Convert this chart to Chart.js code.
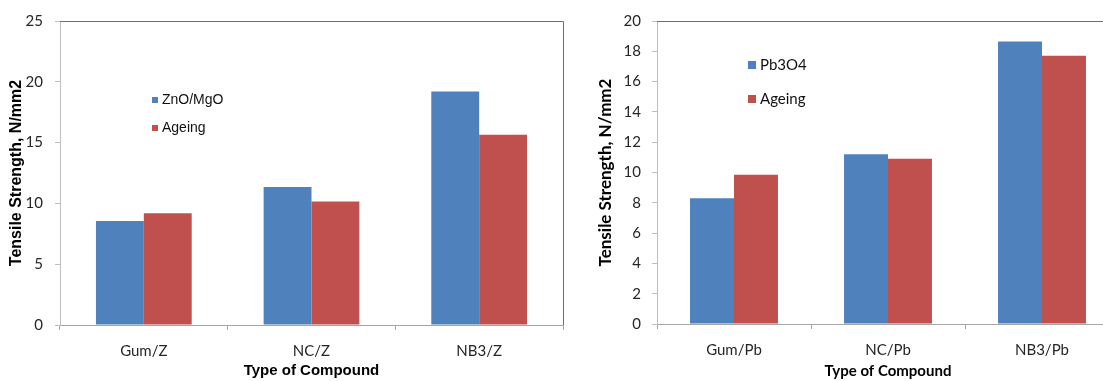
<!DOCTYPE html>
<html lang="en">
<head>
    <meta charset="UTF-8">
    <title>Tensile Strength</title>
    <script src="https://cdn.jsdelivr.net/npm/chart.js"></script>
    <style>
        body { margin: 0; width: 1103px; height: 381px; overflow: hidden; background: #fff; position: relative; }
        #leftChart { position: absolute; left: 0; top: 0; }
        #rightChart { position: absolute; left: 580px; top: 0; }
    </style>
</head>
<body>

<canvas id="leftChart" width="580" height="381"></canvas>
<canvas id="rightChart" width="560" height="381"></canvas>

<script>
    // data
    const categoriesZ = ['Gum/Z', 'NC/Z', 'NB3/Z'];
    const znoMgo = [8.55, 11.35, 19.2];
    const ageingZ = [9.2, 10.15, 15.65];

    const categoriesPb = ['Gum/Pb', 'NC/Pb', 'NB3/Pb'];
    const pb3o4 = [8.3, 11.2, 18.65];
    const ageingPb = [9.85, 10.9, 17.7];

    const yTicksZ = [0, 5, 10, 15, 20, 25];
    const yTicksPb = [0, 2, 4, 6, 8, 10, 12, 14, 16, 18, 20];

    const BLUE = '#4F81BD';
    const RED = '#C0504D';
    const calibriLike = 'Lato, "Open Sans", sans-serif';
    const arialLike = '"Liberation Sans", Arial, sans-serif';

    // top + right plot frame, like the old excel plot area
    const frame = {
        id: 'frame',
        beforeDatasetsDraw(chart) {
            const a = chart.chartArea;
            const ctx = chart.ctx;
            ctx.save();
            ctx.strokeStyle = '#6f6f6f';
            ctx.lineWidth = 1;
            ctx.beginPath();
            ctx.moveTo(a.left, a.top + 0.5);
            ctx.lineTo(a.right + 0.5, a.top + 0.5);
            ctx.lineTo(a.right + 0.5, a.bottom);
            ctx.stroke();
            ctx.restore();
        }
    };

    // legend floating inside the plot
    const floatLegend = {
        id: 'floatLegend',
        afterDraw(chart, args, opts) {
            const ctx = chart.ctx;
            ctx.save();
            ctx.font = opts.font;
            ctx.textBaseline = 'middle';
            ctx.textAlign = 'left';
            chart.data.datasets.forEach((ds, i) => {
                const cy = opts.y + i * opts.rowGap;
                ctx.fillStyle = ds.backgroundColor;
                ctx.fillRect(opts.x, cy - opts.box / 2, opts.box, opts.box);
                ctx.fillStyle = '#111';
                ctx.fillText(ds.label, opts.x + opts.box + opts.gap, cy);
            });
            ctx.restore();
        }
    };

    function makeChart(id, cfg) {
        const ticksList = cfg.yTicks;
        return new Chart(document.getElementById(id), {
            type: 'bar',
            data: {
                labels: cfg.labels,
                datasets: [
                    { label: cfg.names[0], data: cfg.a, backgroundColor: BLUE },
                    { label: cfg.names[1], data: cfg.b, backgroundColor: RED }
                ]
            },
            options: {
                responsive: false,
                animation: false,
                events: [],
                layout: { padding: cfg.padding },
                datasets: { bar: { categoryPercentage: 0.571, barPercentage: 1 } },
                plugins: {
                    legend: { display: false },
                    tooltip: { enabled: false },
                    floatLegend: cfg.legend
                },
                scales: {
                    x: {
                        afterFit: s => { s.height = cfg.xHeight; },
                        grid: { drawOnChartArea: false, drawTicks: true, tickLength: 5, color: '#a6a6a6' },
                        border: { color: '#a6a6a6' },
                        ticks: { color: '#262626', font: { family: calibriLike, size: 15 }, padding: cfg.xTickPad, maxRotation: 0 },
                        title: { display: true, text: 'Type of Compound', color: '#000',
                                 font: { family: cfg.titleFamily, size: cfg.xTitleSize, weight: 'bold' },
                                 padding: { top: 0, bottom: cfg.xTitlePad } }
                    },
                    y: {
                        min: ticksList[0],
                        max: ticksList[ticksList.length - 1],
                        afterFit: s => { s.width = cfg.yWidth; },
                        afterBuildTicks: s => { s.ticks = ticksList.map(v => ({ value: v })); },
                        grid: { drawOnChartArea: false, drawTicks: true, tickLength: 5, color: '#bfbfbf' },
                        border: { color: '#bfbfbf' },
                        ticks: { color: '#262626', font: { family: calibriLike, size: 15 }, padding: cfg.yTickPad },
                        title: { display: true, text: 'Tensile Strength, N/mm2', color: '#000',
                                 font: { family: cfg.titleFamily, size: cfg.yTitleSize, weight: 'bold' },
                                 padding: { top: cfg.yTitlePad, bottom: 0 } }
                    }
                }
            },
            plugins: [frame, floatLegend]
        });
    }

    makeChart('leftChart', {
        labels: categoriesZ, a: znoMgo, b: ageingZ, names: ['ZnO/MgO', 'Ageing'],
        yTicks: yTicksZ,
        padding: { left: 0, top: 20, right: 17, bottom: 0 },
        xHeight: 56, yWidth: 60, xTickPad: 12, yTickPad: 12,
        titleFamily: arialLike, xTitleSize: 15, yTitleSize: 16, xTitlePad: 1, yTitlePad: 7,
        legend: { x: 152, y: 100, rowGap: 28, box: 6, gap: 4, font: '14px ' + arialLike }
    });

    makeChart('rightChart', {
        labels: categoriesPb, a: pb3o4, b: ageingPb, names: ['Pb3O4', 'Ageing'],
        yTicks: yTicksPb,
        padding: { left: 0, top: 21, right: 21, bottom: 0 },
        xHeight: 57, yWidth: 77, xTickPad: 12, yTickPad: 11,
        titleFamily: calibriLike, xTitleSize: 15, yTitleSize: 17, xTitlePad: 1, yTitlePad: 15,
        legend: { x: 168, y: 65, rowGap: 34, box: 8, gap: 4, font: '15px ' + calibriLike }
    });
</script>

</body>
</html>
